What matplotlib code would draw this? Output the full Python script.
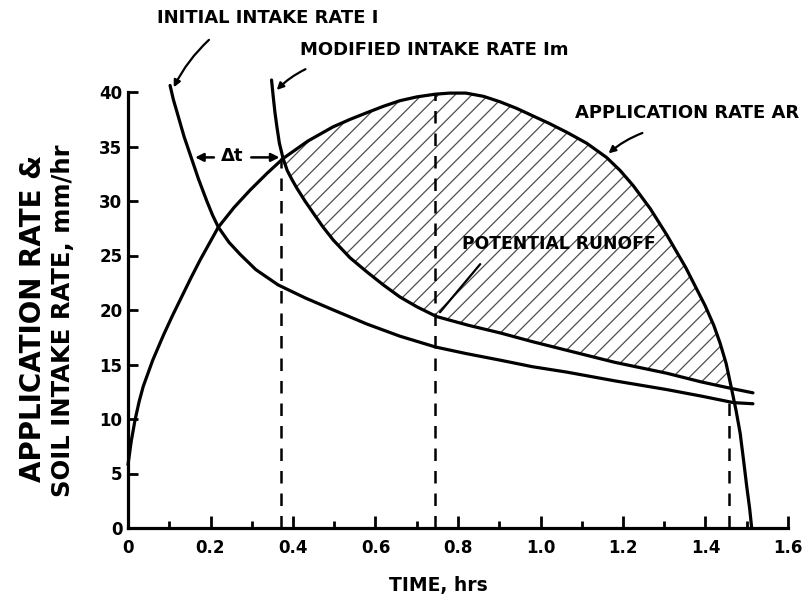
import numpy as np
import matplotlib
matplotlib.use("Agg")
import matplotlib.pyplot as plt
from matplotlib import font_manager
from matplotlib.ticker import MultipleLocator, FixedLocator

# application rate AR (mm/hr) against time (hrs)
ar_t = [0.0, 0.008, 0.017, 0.027, 0.037, 0.060, 0.086, 0.108, 0.130, 0.152,
        0.175, 0.197, 0.219, 0.257, 0.296, 0.336, 0.376, 0.436, 0.497, 0.539,
        0.579, 0.620, 0.659, 0.700, 0.745, 0.780, 0.819, 0.862, 0.902, 0.942,
        0.982, 1.022, 1.064, 1.112, 1.160, 1.193, 1.225, 1.266, 1.306, 1.352,
        1.399, 1.420, 1.435, 1.450, 1.463, 1.474, 1.484, 1.492, 1.500, 1.507,
        1.512]
ar_v = [5.8, 8.0, 9.9, 11.6, 13.0, 15.4, 17.7, 19.5, 21.2, 22.9,
        24.6, 26.1, 27.6, 29.4, 31.0, 32.5, 33.9, 35.5, 36.8, 37.5,
        38.1, 38.7, 39.2, 39.55, 39.8, 39.9, 39.9, 39.6, 39.1, 38.5,
        37.8, 37.1, 36.3, 35.3, 34.0, 32.8, 31.4, 29.3, 26.9, 23.9,
        20.4, 18.6, 17.0, 15.1, 12.8, 10.8, 8.7, 6.3, 3.8, 1.8,
        0.0]

# initial intake rate I
i_t = [0.102, 0.110, 0.120, 0.136, 0.154, 0.171, 0.191, 0.205, 0.219, 0.245,
       0.272, 0.310, 0.364, 0.430, 0.498, 0.580, 0.659, 0.746, 0.820, 0.902,
       0.980, 1.064, 1.180, 1.306, 1.390, 1.468, 1.515]
i_v = [40.6, 39.3, 38.0, 35.9, 33.9, 32.0, 30.0, 28.7, 27.6, 26.2,
       25.1, 23.7, 22.3, 21.1, 20.0, 18.7, 17.6, 16.6, 16.0, 15.4,
       14.8, 14.3, 13.5, 12.7, 12.1, 11.5, 11.4]

# modified intake rate Im
im_t = [0.348, 0.352, 0.356, 0.361, 0.367, 0.376, 0.386, 0.397, 0.409, 0.429,
        0.449, 0.473, 0.498, 0.538, 0.579, 0.619, 0.659, 0.700, 0.748, 0.825,
        0.902, 0.980, 1.064, 1.180, 1.306, 1.390, 1.463, 1.515]
im_v = [41.1, 39.6, 38.2, 36.8, 35.3, 33.9, 32.8, 32.0, 31.2, 30.0,
        28.9, 27.6, 26.4, 24.8, 23.5, 22.3, 21.2, 20.3, 19.4, 18.6,
        17.9, 17.1, 16.3, 15.2, 14.2, 13.4, 12.8, 12.4]

# drop lines: time and the rate they reach up to
drop_t = [0.37, 0.745, 1.458]
drop_top = [33.9, 39.8, 11.6]

# runoff region runs between these times (Im meets AR)
runoff_start, runoff_end = 0.376, 1.463

x_major = [0.0, 0.2, 0.4, 0.6, 0.8, 1.0, 1.2, 1.4, 1.6]
x_labels = ["0", "0.2", "0.4", "0.6", "0.8", "1.0", "1.2", "1.4", "1.6"]
y_major = [0, 5, 10, 15, 20, 25, 30, 35, 40]

installed = {f.name for f in font_manager.fontManager.ttflist}
narrow = "Liberation Sans Narrow" if "Liberation Sans Narrow" in installed else "DejaVu Sans"
fam = [narrow, "DejaVu Sans"]
plt.rcParams["font.family"] = ["DejaVu Sans"]
plt.rcParams["hatch.color"] = "0.3"
plt.rcParams["hatch.linewidth"] = 0.9

W, H = 810, 607
fig = plt.figure(figsize=(W / 100, H / 100), dpi=100)
ax = fig.add_axes([128 / W, (H - 528) / H, (788 - 128) / W, (528 - 92) / H])

LW = 2.3
ar_t, ar_v = np.array(ar_t), np.array(ar_v)
im_t, im_v = np.array(im_t), np.array(im_v)

# hatched potential runoff between AR and Im
sa = (ar_t >= runoff_start) & (ar_t <= runoff_end)
si = (im_t >= runoff_start) & (im_t <= runoff_end)
poly_x = np.concatenate([ar_t[sa], im_t[si][::-1]])
poly_y = np.concatenate([ar_v[sa], im_v[si][::-1]])
ax.fill(poly_x, poly_y, facecolor="none", edgecolor="0.3", hatch="//", linewidth=0)

line_kw = dict(color="black", lw=LW, solid_joinstyle="round", solid_capstyle="round",
               clip_on=False)
ax.plot(ar_t, ar_v, **line_kw)
ax.plot(i_t, i_v, **line_kw)
ax.plot(im_t, im_v, **line_kw)

for t, top in zip(drop_t, drop_top):
    ax.plot([t, t], [0, top], color="black", lw=1.8, linestyle=(0, (5, 4)))

# delta-t between the two intake curves
ax.text(0.252, 34.1, "\u0394t", ha="center", va="center", fontsize=13, fontweight="bold")
arrow = dict(arrowstyle="-|>", color="black", lw=1.8, mutation_scale=12)
ax.annotate("", xy=(0.156, 34.0), xytext=(0.215, 34.0), arrowprops=arrow)
ax.annotate("", xy=(0.374, 34.0), xytext=(0.292, 34.0), arrowprops=arrow)

ax.set_xlim(0, 1.6)
ax.set_ylim(0, 40)
for s in ("top", "right"):
    ax.spines[s].set_visible(False)
for s in ("left", "bottom"):
    ax.spines[s].set_linewidth(LW)

ax.xaxis.set_major_locator(FixedLocator(x_major))
ax.xaxis.set_minor_locator(MultipleLocator(0.1))
ax.set_xticklabels(x_labels)
ax.yaxis.set_major_locator(FixedLocator(y_major))
ax.tick_params(axis="x", which="major", direction="in", length=9, width=2, pad=8,
               labelsize=12)
ax.tick_params(axis="x", which="minor", direction="in", length=5, width=2)
ax.tick_params(axis="y", direction="in", length=7, width=2, pad=4, labelsize=12)
for lab in ax.get_xticklabels() + ax.get_yticklabels():
    lab.set_fontweight("bold")

fig.text(438 / W, 1 - 586 / H, "TIME, hrs", ha="center", va="center",
         fontsize=13.5, fontweight="bold", family=fam)
fig.text(33 / W, 1 - 318 / H, "APPLICATION RATE &", rotation=90, ha="center",
         va="center", fontsize=20, fontweight="bold", family=fam)
fig.text(63 / W, 1 - 321 / H, "SOIL INTAKE RATE, mm/hr", rotation=90, ha="center",
         va="center", fontsize=17.5, fontweight="bold", family=fam)

# curve labels with leaders
lab_kw = dict(fontweight="bold", va="center", ha="left", family=fam)
fig.text(157 / W, 1 - 18 / H, "INITIAL INTAKE RATE I", fontsize=13, **lab_kw)
fig.text(300 / W, 1 - 50 / H, "MODIFIED INTAKE RATE Im", fontsize=13, **lab_kw)
fig.text(575 / W, 1 - 113 / H, "APPLICATION RATE AR", fontsize=13, **lab_kw)
fig.text(462 / W, 1 - 244 / H, "POTENTIAL RUNOFF", fontsize=12.3, **lab_kw)

lead = dict(arrowstyle="-|>", color="black", lw=1.6, mutation_scale=10,
            connectionstyle="arc3,rad=0.1")
ax.annotate("", xy=(0.108, 40.2), xytext=(211, H - 38), textcoords="figure pixels",
            arrowprops=lead, annotation_clip=False)
ax.annotate("", xy=(0.356, 40.0), xytext=(308, H - 68), textcoords="figure pixels",
            arrowprops=lead, annotation_clip=False)
ax.annotate("", xy=(1.160, 34.2), xytext=(645, H - 132), textcoords="figure pixels",
            arrowprops=lead, annotation_clip=False)
ax.annotate("", xy=(0.752, 19.6), xytext=(482, H - 262), textcoords="figure pixels",
            arrowprops=dict(arrowstyle="-", color="black", lw=1.6))

fig.savefig("out.png", dpi=100)
